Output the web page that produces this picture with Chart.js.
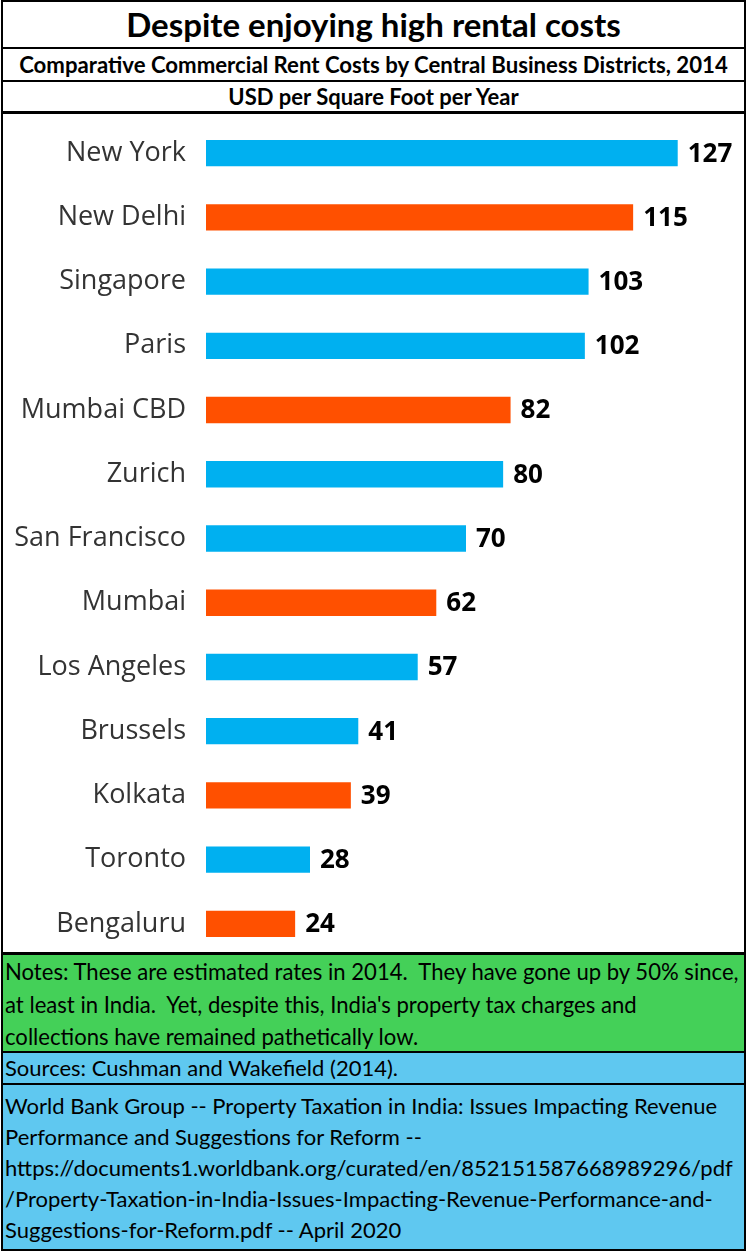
<!DOCTYPE html>
<html>
<head>
<meta charset="utf-8">
<script src="https://cdn.jsdelivr.net/npm/chart.js@4.4.1/dist/chart.umd.min.js"></script>
<style>
  html, body { margin: 0; padding: 0; background: #fff; }
  body { width: 748px; height: 1252px; position: relative; overflow: hidden; font-family: Lato, "Open Sans", sans-serif; }
  .box { position: absolute; left: 1px; width: 745px; box-sizing: border-box; border-left: 2px solid #000; border-right: 2px solid #000; }
  .head { text-align: center; font-weight: bold; color: #000; }
  #title { top: 0; height: 49px; border-top: 2px solid #000; border-bottom: 2px solid #000; font-size: 33px; line-height: 45px; }
  #sub { top: 49px; height: 33px; border-bottom: 2px solid #000; font-size: 22.2px; line-height: 31px; }
  #unit { top: 82px; height: 32px; border-bottom: 3px solid #000; font-size: 22px; line-height: 29px; }
  #chartBox { top: 114px; height: 838px; }
  #notes { top: 952px; height: 101px; background: #44d058; border-top: 3px solid #000; border-bottom: 2px solid #000; font-size: 22.1px; line-height: 32.5px; padding: 1px 0 0 2px; white-space: pre; }
  #src { top: 1053px; height: 32px; background: #5fc8f0; border-bottom: 2px solid #000; font-size: 22px; line-height: 30px; padding-left: 2px; white-space: pre; }
  #wb { top: 1085px; height: 166px; background: #5fc8f0; border-bottom: 2px solid #000; font-size: 22px; line-height: 31px; padding: 5px 0 0 2px; white-space: pre; }
  canvas { position: absolute; left: 0; top: 0; }
</style>
</head>
<body>
<div id="title" class="box head">Despite enjoying high rental costs</div>
<div id="sub" class="box head">Comparative Commercial Rent Costs by Central Business Districts, 2014</div>
<div id="unit" class="box head">USD per Square Foot per Year</div>
<div id="chartBox" class="box"><canvas id="chart"></canvas></div>
<div id="notes" class="box">Notes: These are estimated rates in 2014.  They have gone up by 50% since,
at least in India.  Yet, despite this, India's property tax charges and
collections have remained pathetically low.</div>
<div id="src" class="box">Sources: Cushman and Wakefield (2014).</div>
<div id="wb" class="box">World Bank Group -- Property Taxation in India: Issues Impacting Revenue
Performance and Suggestions for Reform --
https://documents1.worldbank.org/curated/en/852151587668989296/pdf
/Property-Taxation-in-India-Issues-Impacting-Revenue-Performance-and-
Suggestions-for-Reform.pdf -- April 2020</div>
<script>
const cities = ["New York", "New Delhi", "Singapore", "Paris", "Mumbai CBD", "Zurich",
  "San Francisco", "Mumbai", "Los Angeles", "Brussels", "Kolkata", "Toronto", "Bengaluru"];
const rents = [127, 115, 103, 102, 82, 80, 70, 62, 57, 41, 39, 28, 24];
const isIndia = [false, true, false, false, true, false, false, true, false, false, true, false, true];

const BLUE = "#00b0f0";
const ORANGE = "#ff5000";

const valueLabels = {
  id: "valueLabels",
  afterDatasetsDraw(chart) {
    const ctx = chart.ctx;
    const meta = chart.getDatasetMeta(0);
    ctx.save();
    ctx.font = "bold 26px 'Open Sans', sans-serif";
    ctx.fillStyle = "#000";
    ctx.textAlign = "left";
    ctx.textBaseline = "middle";
    meta.data.forEach((bar, i) => {
      ctx.fillText(String(rents[i]), bar.x + 10, bar.y + 1);
    });
    ctx.restore();
  },
};

const canvas = document.getElementById("chart");
canvas.width = 741;
canvas.height = 842;

new Chart(canvas, {
  type: "bar",
  data: {
    labels: cities,
    datasets: [{
      data: rents,
      backgroundColor: isIndia.map((v) => (v ? ORANGE : BLUE)),
      borderWidth: 0,
      barPercentage: 0.41,
      categoryPercentage: 1,
    }],
  },
  options: {
    indexAxis: "y",
    responsive: false,
    animation: false,
    devicePixelRatio: 1,
    layout: { padding: { top: 7, bottom: 0, left: 0, right: 18 } },
    plugins: { legend: { display: false }, tooltip: { enabled: false } },
    scales: {
      x: { display: false, min: 0, max: 140 },
      y: {
        grid: { display: false, drawTicks: false },
        border: { display: false },
        afterFit(scale) {
          scale.width = 203;
          scale.paddingTop = 0;
          scale.paddingBottom = 0;
        },
        ticks: {
          padding: 20,
          color: "#333333",
          font: { family: "'Open Sans', sans-serif", size: 27 },
        },
      },
    },
  },
  plugins: [valueLabels],
});
</script>
</body>
</html>
